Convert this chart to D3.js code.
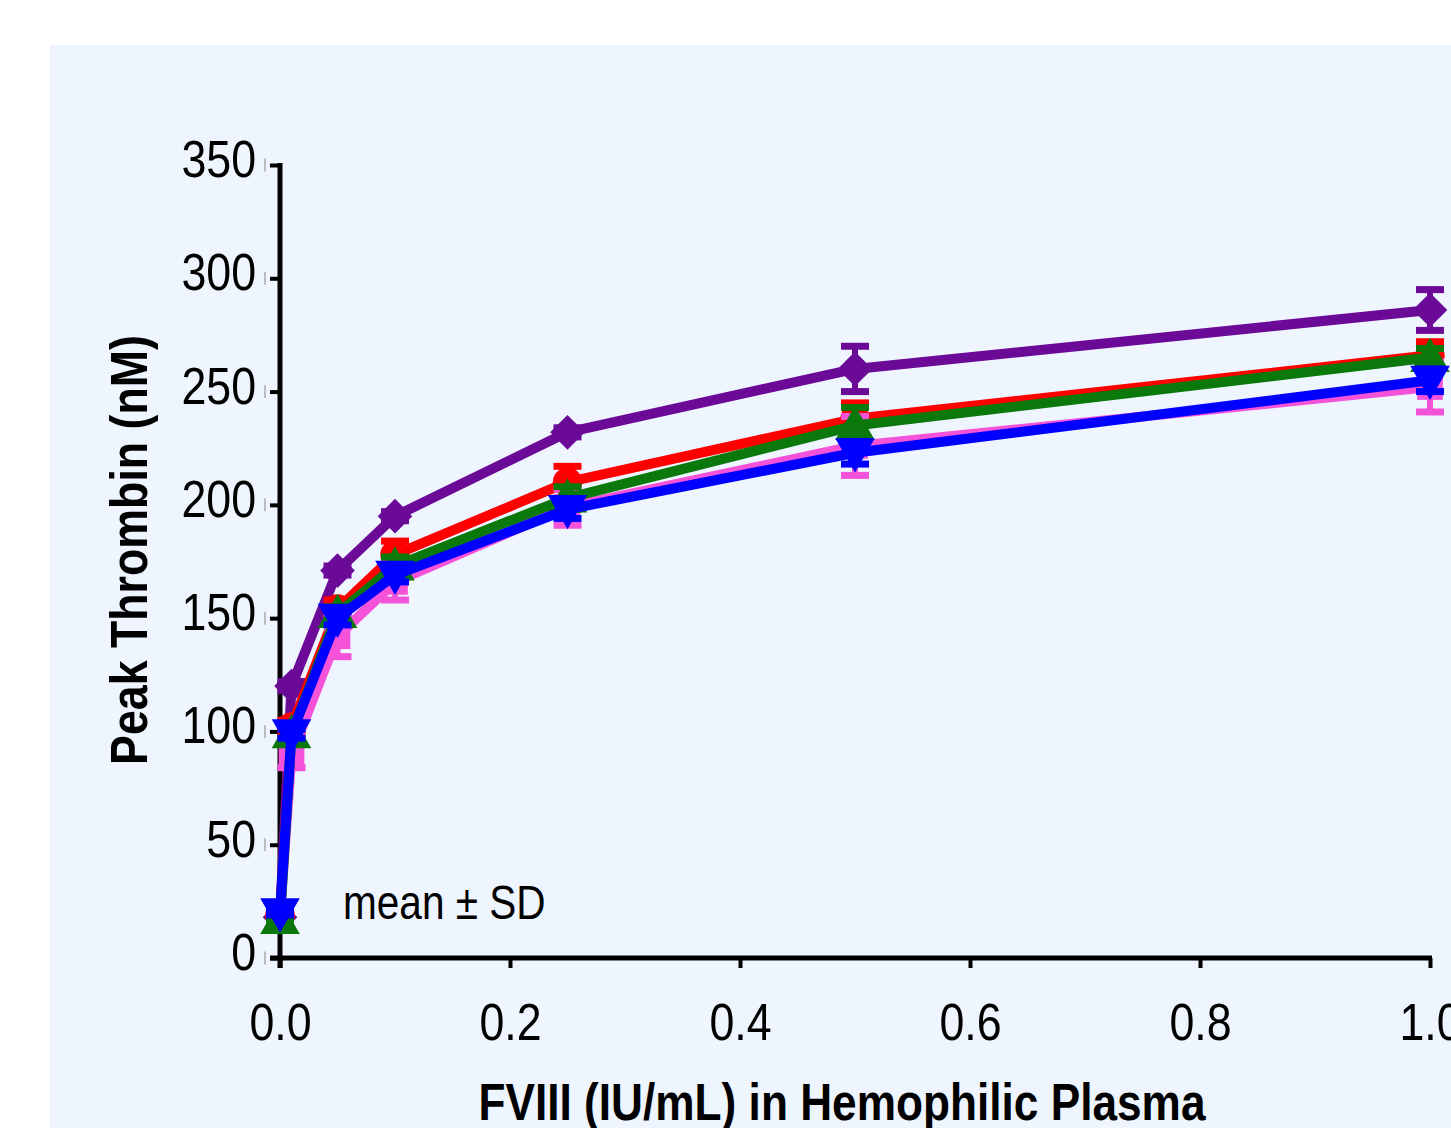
<!DOCTYPE html>
<html>
<head>
<meta charset="utf-8">
<script src="https://cdnjs.cloudflare.com/ajax/libs/d3/7.8.5/d3.min.js"></script>
<style>
  body { margin: 0; background: #fff; }
  svg { display: block; }
  text { font-family: "Liberation Sans", Arial, sans-serif; }
</style>
</head>
<body>
<div id="graph"></div>
<script>
var w = 1451, h = 1128

// data
var doses = [0, 0.01, 0.05, 0.1, 0.25, 0.5, 1.0]
var purpleMean = [18, 120, 171, 195, 232, 260, 286]
var purpleSD   = [1, 2, 2, 2, 2, 10, 9]
var redMean    = [19, 102, 154, 178, 210, 238, 266]
var redSD      = [1, 3, 4, 6, 7, 7, 6]
var pinkMean   = [19, 90, 142, 166, 199, 226, 252]
var pinkSD     = [2, 6, 9, 8, 8, 13, 11]
var greenMean  = [17, 99, 152, 173, 203, 235, 265]
var greenSD    = [1, 3, 3, 4, 5, 8, 4]
var blueMean   = [20, 99, 150, 169, 198, 223, 255]
var blueSD     = [1, 2, 3, 3, 4, 5, 5]
var yTicks = [0, 50, 100, 150, 200, 250, 300, 350]
var xTicks = [0, 0.2, 0.4, 0.6, 0.8, 1.0]

var series = [
  {name: 'purple', color: '#6c0a98', shape: 'diamond', mean: purpleMean, sd: purpleSD},
  {name: 'red',    color: '#ff0000', shape: 'circle',  mean: redMean,    sd: redSD},
  {name: 'pink',   color: '#f552da', shape: 'square',  mean: pinkMean,   sd: pinkSD},
  {name: 'green',  color: '#0a780a', shape: 'up',      mean: greenMean,  sd: greenSD},
  {name: 'blue',   color: '#0000ff', shape: 'down',    mean: blueMean,   sd: blueSD}
]

var svg = d3.select('#graph').append('svg')
    .attr('width', w).attr('height', h)

svg.append('rect')
    .attr('x', 50).attr('y', 45).attr('width', w - 50).attr('height', h - 45)
    .attr('fill', '#eef5ff')

var x = d3.scaleLinear().domain([0, 1]).range([280, 1430])
var y = d3.scaleLinear().domain([0, 350]).range([958, 165])

// squeeze text to look like a narrow face
function condense(sel, k){
  sel.each(function(){
    var len = this.getComputedTextLength()
    d3.select(this).attr('textLength', len * k).attr('lengthAdjust', 'spacingAndGlyphs')
  })
}

// y axis
var yAxis = svg.append('g').attr('transform', 'translate(280,0)')
    .call(d3.axisLeft(y).tickValues(yTicks).tickSize(10).tickPadding(14).tickFormat(d3.format('d')))
yAxis.select('.domain').remove()
yAxis.selectAll('.tick line').attr('stroke', '#000').attr('stroke-width', 4)
yAxis.selectAll('.tick text').attr('font-size', 52).attr('fill', '#000').attr('dy', '0.22em')
    .call(condense, 0.86)
yAxis.selectAll('.tick').append('line')
    .attr('x1', -15).attr('x2', -15).attr('y1', -7).attr('y2', 6)
    .attr('stroke', '#aaa').attr('stroke-width', 1.5)
svg.append('line').attr('x1', 280).attr('x2', 280).attr('y1', y(350) - 2).attr('y2', y(0) + 10)
    .attr('stroke', '#000').attr('stroke-width', 5)

// x axis
var xAxis = svg.append('g').attr('transform', 'translate(0,958)')
    .call(d3.axisBottom(x).tickValues(xTicks).tickSize(10).tickPadding(35).tickFormat(d3.format('.1f')))
xAxis.select('.domain').remove()
xAxis.selectAll('.tick line').attr('stroke', '#000').attr('stroke-width', 4)
xAxis.selectAll('.tick text').attr('font-size', 52).attr('fill', '#000').attr('dy', '0.72em')
    .call(condense, 0.86)
svg.append('line').attr('x1', 270).attr('x2', 1432).attr('y1', 958).attr('y2', 958)
    .attr('stroke', '#000').attr('stroke-width', 5)

// titles
svg.append('text')
    .attr('transform', 'translate(147,550) rotate(-90)')
    .attr('text-anchor', 'middle').attr('font-size', 52).attr('font-weight', 'bold')
    .text('Peak Thrombin (nM)')
    .call(condense, 0.86)
svg.append('text')
    .attr('x', 842).attr('y', 1120)
    .attr('text-anchor', 'middle').attr('font-size', 52).attr('font-weight', 'bold')
    .text('FVIII (IU/mL) in Hemophilic Plasma')
    .call(condense, 0.85)
svg.append('text')
    .attr('x', 343).attr('y', 919).attr('font-size', 48)
    .text('mean \u00b1 SD')
    .call(condense, 0.845)

function symbolPath(shape){
  if (shape == 'circle') return d3.symbol(d3.symbolCircle, 680)()
  if (shape == 'square') return d3.symbol(d3.symbolSquare, 660)()
  if (shape == 'diamond') return d3.symbol(d3.symbolSquare, 600)()
  return d3.symbol(d3.symbolTriangle, 680)()
}
function symbolRotate(shape){
  if (shape == 'diamond') return 45
  if (shape == 'down') return 180
  return 0
}

var line = d3.line().x(function(d){ return x(d[0]) }).y(function(d){ return y(d[1]) })

series.forEach(function(s){
  var pts = doses.map(function(d, i){ return [d, s.mean[i], s.sd[i]] })
  var g = svg.append('g').attr('class', s.name)

  // error bars
  pts.forEach(function(p){
    var cx = x(p[0]), top = y(p[1] + p[2]), bot = y(p[1] - p[2])
    g.append('line').attr('x1', cx).attr('x2', cx).attr('y1', top).attr('y2', bot)
        .attr('stroke', s.color).attr('stroke-width', 6)
    ;[top, bot].forEach(function(yy){
      g.append('line').attr('x1', cx - 14).attr('x2', cx + 14).attr('y1', yy).attr('y2', yy)
          .attr('stroke', s.color).attr('stroke-width', 7)
    })
  })

  g.append('path').attr('d', line(pts))
      .attr('fill', 'none').attr('stroke', s.color).attr('stroke-width', 10)
      .attr('stroke-linejoin', 'round')

  g.selectAll('path.pt').data(pts).enter().append('path')
      .attr('class', 'pt')
      .attr('d', symbolPath(s.shape))
      .attr('transform', function(d){
        var dy = s.shape == 'up' ? 3 : (s.shape == 'down' ? -3 : 0)
        return 'translate(' + x(d[0]) + ',' + (y(d[1]) + dy) + ') rotate(' + symbolRotate(s.shape) + ')'
      })
      .attr('fill', s.color)
})
</script>
</body>
</html>
